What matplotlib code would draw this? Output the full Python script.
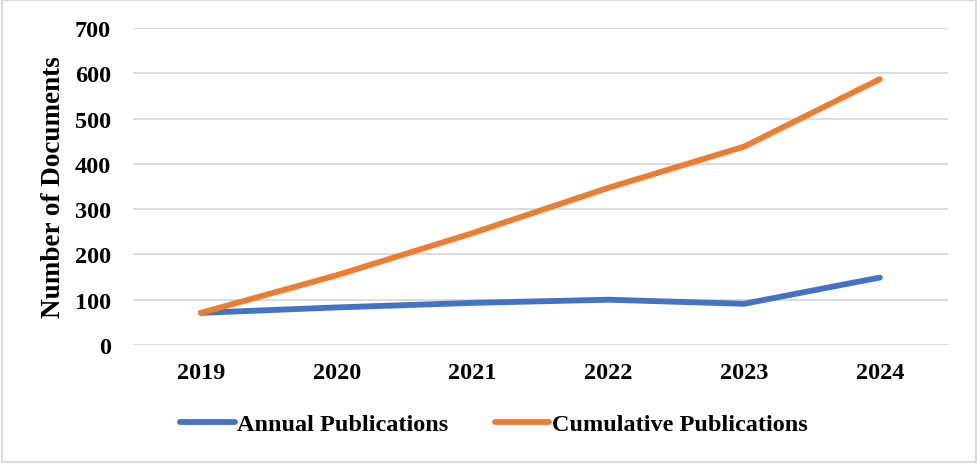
import matplotlib
matplotlib.use("Agg")
import matplotlib.pyplot as plt
from matplotlib.patches import Rectangle

# data
years = ["2019", "2020", "2021", "2022", "2023", "2024"]
annual = [71, 83, 93, 100, 91, 149]
cumulative = [71, 154, 247, 347, 438, 587]

plt.rcParams['font.family'] = ['Liberation Serif', 'DejaVu Serif']
plt.rcParams['font.weight'] = 'bold'

fig = plt.figure(figsize=(9.78, 4.64), dpi=100)
ax = fig.add_axes([0.136, 0.2543, 0.833, 0.6832])

x = range(len(years))
ax.plot(x, annual, color='#4472C4', lw=4.2, solid_capstyle='round', label='Annual Publications')
ax.plot(x, cumulative, color='#ED7D31', lw=4.2, solid_capstyle='round', label='Cumulative Publications')

ax.set_xlim(-0.5, len(years) - 0.5)
ax.set_ylim(0, 700)
ax.set_yticks(range(0, 701, 100))
ax.set_xticks(list(x))
ax.set_xticklabels(years)
ax.tick_params(length=0, labelsize=17.5, pad=12)
ax.tick_params(axis='y', pad=16)
ax.grid(axis='y', color='#D9D9D9', lw=1.3)
ax.set_axisbelow(True)
for s in ax.spines.values():
    s.set_visible(False)

ax.set_ylabel("Number of Documents", fontsize=19.5, fontweight='bold', labelpad=6)

leg = fig.legend(loc='center', bbox_to_anchor=(0.505, 0.083), ncol=2, frameon=False,
                 prop={'size': 17.5, 'weight': 'bold'}, handlelength=2.25,
                 handletextpad=0.1, columnspacing=1.9)
for h in leg.get_lines():
    h.set_solid_capstyle('round')

# light border around the chart
fig.patches.append(Rectangle((0.002, 0.003), 0.996, 0.994, transform=fig.transFigure,
                             fill=False, edgecolor='#D9D9D9', lw=1.5))

fig.savefig("out.png", dpi=100)
